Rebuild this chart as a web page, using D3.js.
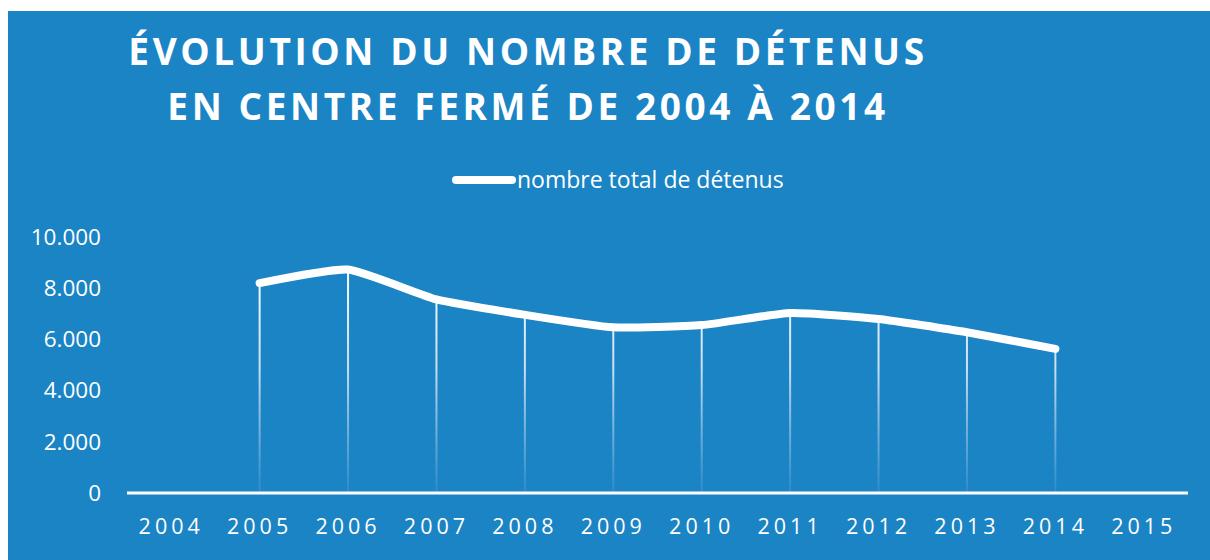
<!DOCTYPE html>
<html>
<head>
<meta charset="utf-8">
<script src="https://cdn.jsdelivr.net/npm/d3@7"></script>
<style>
  html, body { margin: 0; padding: 0; background: #fff; }
  svg { display: block; font-family: "Open Sans", "Noto Sans", sans-serif; }
</style>
</head>
<body>
<svg id="chart" width="1210" height="560"></svg>
<script>
// ── Data ─────────────────────────────────────────────────────────────────────
const YEARS   = ['2004','2005','2006','2007','2008','2009','2010','2011','2012','2013','2014','2015'];
const DET_YEARS = ['2005','2006','2007','2008','2009','2010','2011','2012','2013','2014'];
const DETENUS   = [8200, 8730, 7560, 6960, 6470, 6560, 7030, 6800, 6280, 5630];
const Y_TICKS   = [0, 2000, 4000, 6000, 8000, 10000];
const TITLE     = ['ÉVOLUTION DU NOMBRE DE DÉTENUS', 'EN CENTRE FERMÉ DE 2004 À 2014'];
const LEGEND    = 'nombre total de détenus';

const BG = '#1a84c5';

const svg = d3.select('#chart');

// background panel (white strip on top and left)
svg.append('rect').attr('x', 8).attr('y', 11).attr('width', 1202).attr('height', 549).attr('fill', BG);

// ── Scales ───────────────────────────────────────────────────────────────────
const x = d3.scaleBand().domain(YEARS).range([127, 1188]).padding(0);
const y = d3.scaleLinear().domain([0, 10000]).range([493, 237]);
const cx = d => x(d) + x.bandwidth() / 2;

const fr = d3.formatLocale({ decimal: ',', thousands: '.', grouping: [3], currency: ['', '€'] });
const fmt = fr.format(',d');

// ── Title ────────────────────────────────────────────────────────────────────
svg.append('g').selectAll('text').data(TITLE).join('text')
    .attr('x', 528).attr('y', (d, i) => 65 + i * 55)
    .attr('text-anchor', 'middle')
    .attr('fill', '#fff')
    .attr('font-size', 37).attr('font-weight', 700)
    .attr('letter-spacing', 3.6)
    .text(d => d);

// ── Legend ───────────────────────────────────────────────────────────────────
const leg = svg.append('g');
leg.append('line').attr('x1', 456).attr('x2', 512).attr('y1', 180).attr('y2', 180)
    .attr('stroke', '#fff').attr('stroke-width', 8).attr('stroke-linecap', 'round');
leg.append('text').attr('x', 517).attr('y', 188)
    .attr('fill', '#fff').attr('font-size', 23).text(LEGEND);

// ── Axes ─────────────────────────────────────────────────────────────────────
const yAxis = svg.append('g').attr('transform', 'translate(101,0)')
    .call(d3.axisLeft(y).tickValues(Y_TICKS).tickFormat(fmt).tickSize(0).tickPadding(0));
yAxis.select('.domain').remove();
yAxis.selectAll('text').attr('fill', '#fff').attr('font-size', 22.5)
    .attr('font-family', '"Open Sans", sans-serif');

const xAxis = svg.append('g').attr('transform', 'translate(0,527)')
    .call(d3.axisBottom(x).tickSize(0).tickPadding(0));
xAxis.select('.domain').remove();
xAxis.selectAll('text').attr('fill', '#fff').attr('font-size', 21.5)
    .attr('letter-spacing', 4).attr('dy', '0.32em')
    .attr('font-family', '"Open Sans", sans-serif');

// ── Drop lines (fading) ──────────────────────────────────────────────────────
const defs = svg.append('defs');
const grad = defs.append('linearGradient').attr('id', 'drop')
    .attr('gradientUnits', 'userSpaceOnUse')
    .attr('x1', 0).attr('x2', 0).attr('y1', y(8800)).attr('y2', y(0));
grad.append('stop').attr('offset', 0).attr('stop-color', '#fff').attr('stop-opacity', 1);
grad.append('stop').attr('offset', 0.45).attr('stop-color', '#e8eef8').attr('stop-opacity', 0.85);
grad.append('stop').attr('offset', 1).attr('stop-color', '#c8d4ee').attr('stop-opacity', 0.1);

const pts = DET_YEARS.map((yr, i) => ({ yr, v: DETENUS[i] }));

svg.append('g').selectAll('line').data(pts).join('line')
    .attr('x1', d => cx(d.yr)).attr('x2', d => cx(d.yr))
    .attr('y1', d => y(d.v)).attr('y2', y(0))
    .attr('stroke', 'url(#drop)').attr('stroke-width', 2);

// axis baseline
svg.append('line').attr('x1', x.range()[0]).attr('x2', x.range()[1])
    .attr('y1', y(0)).attr('y2', y(0))
    .attr('stroke', '#fff').attr('stroke-width', 3);

// ── Series line (mild smoothing) ─────────────────────────────────────────────
const line = d3.line().x(d => cx(d.yr)).y(d => y(d.v)).curve(d3.curveCardinal.tension(0.5));
svg.append('path').datum(pts)
    .attr('d', line)
    .attr('fill', 'none').attr('stroke', '#fff')
    .attr('stroke-width', 8).attr('stroke-linecap', 'round').attr('stroke-linejoin', 'round');
</script>
</body>
</html>
